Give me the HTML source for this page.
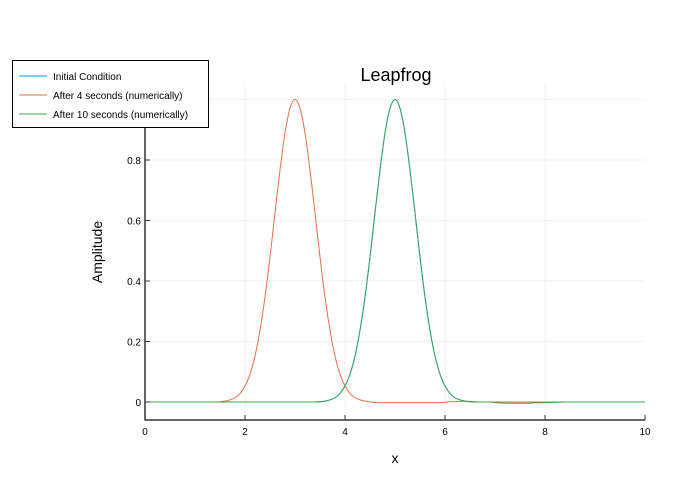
<!DOCTYPE html>
<html><head><meta charset="utf-8"><style>
body{margin:0;background:#fff;}
svg{display:block;font-family:"Liberation Sans",sans-serif;}
</style></head><body>
<svg id="chart" width="700" height="500" xmlns="http://www.w3.org/2000/svg">
<rect width="700" height="500" fill="#fff"/>
<g id="grid"></g>
<g id="series"></g>
<g id="axes"></g>
<text x="396" y="81" font-size="18" text-anchor="middle" fill="#000">Leapfrog</text>
<text x="395" y="463" font-size="14" text-anchor="middle" fill="#000">x</text>
<text transform="translate(102,252) rotate(-90)" font-size="14" text-anchor="middle" fill="#000">Amplitude</text>
<g>
<rect x="12.5" y="60.5" width="196" height="67" fill="#fff" stroke="#000" stroke-width="1"/>
<g><line x1="19" y1="76" x2="47" y2="76" stroke="#009AFA"/><text x="53" y="80" font-size="10">Initial Condition</text></g>
<g><line x1="19" y1="95" x2="47" y2="95" stroke="#E36F47"/><text x="53" y="99" font-size="10">After 4 seconds (numerically)</text></g>
<g><line x1="19" y1="114" x2="47" y2="114" stroke="#3EA44E"/><text x="53" y="118" font-size="10">After 10 seconds (numerically)</text></g>
</g>
</svg>
<script>
const xTicks=[0,2,4,6,8,10];
const yTicks=[0,0.2,0.4,0.6,0.8,1.0];
const yTickLabels=["0","0.2","0.4","0.6","0.8",""];
const xStart=0, xStep=0.1;
const initial=[0,0,0,0,0,0,0,0,0,0,0,0,0,0,0,0,0,0,0,0,0,0,0,0,0,0,0,0,0,0,0,0,0,0,0,
0.001,0.003,0.007,0.014,0.028,0.053,0.092,0.152,0.237,0.347,0.479,0.625,0.767,0.889,0.971,1,0.971,0.889,0.767,0.625,0.479,0.347,0.237,0.152,0.092,0.053,0.028,0.014,0.007,0.003,0.001,
0,0,0,0,0,0,0,0,0,0,0,0,0,0,0,0,0,0,0,0,0,0,0,0,0,0,0,0,0,0,0,0,0,0,0];
const after4=[0,0,0,0,0,0,0,0,0,0,0,0,0,0,0,
0.001,0.003,0.007,0.014,0.028,0.053,0.092,0.152,0.237,0.347,0.479,0.625,0.767,0.889,0.971,1,0.971,0.889,0.767,0.625,0.479,0.347,0.237,0.152,0.092,0.053,0.028,0.014,0.007,0.003,0.001,
-0.002,-0.002,-0.002,-0.002,-0.002,-0.002,-0.002,-0.002,-0.002,-0.002,-0.002,-0.002,-0.002,-0.002,-0.001,
0.001,0.001,0.002,0.002,0.002,0.001,0,0,0,0,0,0,0,0,0,0,0,0,0,0,0,0,0,0,0,0,0,0,0,0,0];
const after10=[0,0,0,0,0,0,0,0,0,0,0,0,0,0,0,0,0,0,0,0,0,0,0,0,0,0,0,0,0,0,0,0,0,0,0,
0.001,0.003,0.007,0.014,0.028,0.053,0.092,0.152,0.237,0.347,0.479,0.625,0.767,0.889,0.971,1,0.971,0.889,0.767,0.625,0.479,0.347,0.237,0.152,0.092,0.053,0.028,0.014,0.007,0.003,0.001,
0,0,0,0,-0.002,-0.003,-0.004,-0.004,-0.004,-0.004,-0.004,-0.004,-0.003,-0.003,-0.002,-0.002,-0.001,-0.001,0,0,0,0,0,0,0,0,0,0,0,0,0,0,0,0,0];
const NS="http://www.w3.org/2000/svg";
const L=145,R=645,T=85,B=420;
const xs=v=>L+(v-0)/(10-0)*(R-L);
const ys=v=>402-v*302.5;
function mk(tag,attrs,parent){const e=document.createElementNS(NS,tag);for(const k in attrs)e.setAttribute(k,attrs[k]);parent.appendChild(e);return e;}
const grid=document.getElementById('grid'),axes=document.getElementById('axes'),series=document.getElementById('series');
xTicks.forEach(t=>{
  if(t>0&&t<10){const g=mk('line',{x1:xs(t),x2:xs(t),y1:T,y2:B,stroke:'#000','stroke-opacity':0.05},grid);
  
  }
  const tk=mk('line',{x1:xs(t),x2:xs(t),y1:B,y2:B-5,stroke:'#333'},axes);
  
  
  const lb=mk('text',{x:xs(t),y:B+15,'font-size':10,'text-anchor':'middle',fill:'#000'},axes);
  lb.textContent=t;
  
  
});
yTicks.forEach((t,i)=>{
  if(t>0){const g=mk('line',{x1:L,x2:R,y1:ys(t),y2:ys(t),stroke:'#000','stroke-opacity':0.05},grid);
  
  }
  const tk=mk('line',{x1:L,x2:L+5,y1:ys(t),y2:ys(t),stroke:'#333'},axes);
  
  
  const lb=mk('text',{x:L-4,y:ys(t)+4,'font-size':10,'text-anchor':'end',fill:'#000'},axes);
  lb.textContent=yTickLabels[i];
  
  
});
const ax=mk('path',{d:`M${L},${T}V${B}H${R}`,fill:'none',stroke:'#333','stroke-width':1.5},axes);


function line(arr,color,name){
  const P=arr.map((v,i)=>[xs(xStart+i*xStep),ys(v)]);
  let d='M'+P[0][0].toFixed(2)+','+P[0][1].toFixed(2);
  for(let i=0;i<P.length-1;i++){
    const p0=P[Math.max(0,i-1)],p1=P[i],p2=P[i+1],p3=P[Math.min(P.length-1,i+2)];
    const c1=[p1[0]+(p2[0]-p0[0])/6,p1[1]+(p2[1]-p0[1])/6];
    const c2=[p2[0]-(p3[0]-p1[0])/6,p2[1]-(p3[1]-p1[1])/6];
    d+='C'+c1[0].toFixed(2)+','+c1[1].toFixed(2)+' '+c2[0].toFixed(2)+','+c2[1].toFixed(2)+' '+p2[0].toFixed(2)+','+p2[1].toFixed(2);
  }
  const p=mk('path',{d:d,fill:'none',stroke:color,'stroke-width':1},series);
  
  
}
line(initial,'#009AFA','initial-condition-line');
line(after4,'#E36F47','after-4s-line');
line(after10,'#3EA44E','after-10s-line');
</script>
</body></html>
